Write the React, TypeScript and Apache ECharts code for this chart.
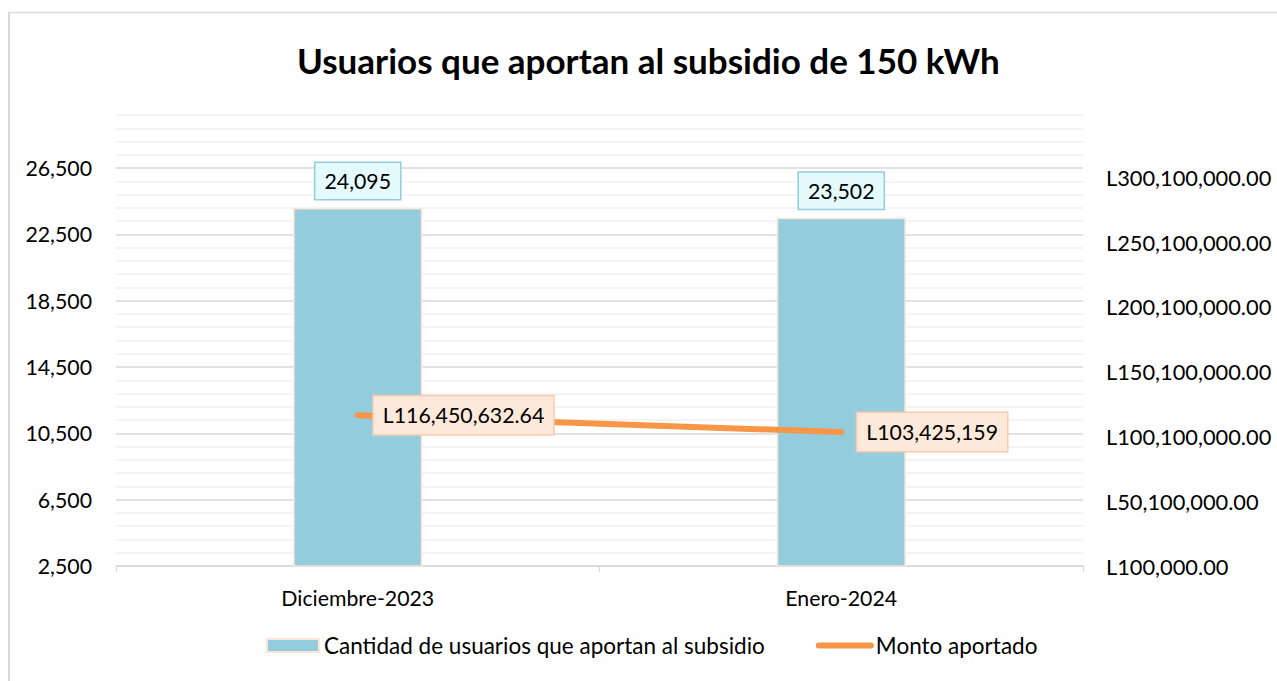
import React, { useEffect, useRef } from 'react';
import * as echarts from 'echarts';

const titleText = 'Usuarios que aportan al subsidio de 150 kWh';
const categories = ['Diciembre-2023', 'Enero-2024'];
const usuarios = [24095, 23502];
const monto = [116450632.64, 103425159];
const seriesNames = ['Cantidad de usuarios que aportan al subsidio', 'Monto aportado'];

const leftMin = 2500;
const leftMax = 29700;
const leftMinorStep = 800;
const leftMajorStep = 4000;
const rightMin = 100000;
const rightMax = 348100000;
const rightStep = 50000000;

const FONT = 'Lato, "Noto Sans", sans-serif';
const AX = 21.3;

export default function App() {
  const ref = useRef<HTMLDivElement>(null);
  useEffect(() => {
    if (!ref.current) return;
    const chart = echarts.init(ref.current, null, { renderer: 'svg' });
    const fmtInt = (v: number) => v.toLocaleString('en-US');
    chart.setOption({
      animation: false,
      backgroundColor: '#ffffff',
      textStyle: { fontFamily: FONT },
      title: {
        text: titleText,
        left: 292,
        top: 37,
        textStyle: { fontFamily: FONT, fontSize: 35, fontWeight: 'bold', color: '#000' },
      },
      graphic: [
        { type: 'line', shape: { x1: 9, y1: 12, x2: 9, y2: 681 }, style: { stroke: '#d9d9d9', lineWidth: 2 } },
        { type: 'line', shape: { x1: 8, y1: 12.5, x2: 1277, y2: 12.5 }, style: { stroke: '#d9d9d9', lineWidth: 1.5 } },
      ],
      legend: {
        bottom: 19,
        left: 261,
        itemGap: 51,
        itemWidth: 52,
        itemHeight: 13,
        itemTextGap: 6,
        textStyle: { fontFamily: FONT, fontSize: 22.5, color: '#000' },
        data: [
          { name: seriesNames[0], icon: 'rect' },
          { name: seriesNames[1], itemStyle: { opacity: 0 }, lineStyle: { width: 6, cap: 'round' } },
        ],
      },
      grid: { left: 116, right: 194, top: 115, bottom: 115, containLabel: false, outerBoundsMode: 'none' },
      xAxis: {
        type: 'category',
        data: categories,
        boundaryGap: true,
        axisLine: { show: true, lineStyle: { color: '#d9d9d9', width: 1.5 } },
        axisTick: { show: true, length: 6, lineStyle: { color: '#d9d9d9' } },
        axisLabel: { fontFamily: FONT, fontSize: AX, color: '#000', margin: 21 },
      },
      yAxis: [
        {
          type: 'value',
          min: leftMin,
          max: leftMax,
          interval: leftMinorStep,
          axisLine: { show: false },
          axisTick: { show: false },
          axisLabel: {
            fontFamily: FONT,
            fontSize: AX,
            color: '#000',
            margin: 24,
            showMaxLabel: false,
            formatter: (v: number) => ((v - leftMin) % leftMajorStep === 0 ? fmtInt(v) : ''),
          },
          splitLine: {
            show: true,
            lineStyle: {
              color: ['#d9d9d9', '#f0f0f0', '#f0f0f0', '#f0f0f0', '#f0f0f0'],
              width: 1.5,
            },
          },
        },
        {
          type: 'value',
          min: rightMin,
          max: rightMax,
          interval: rightStep,
          axisLine: { show: false },
          axisTick: { show: false },
          splitLine: { show: false },
          axisLabel: {
            fontFamily: FONT,
            fontSize: 21.8,
            color: '#000',
            margin: 23,
            showMaxLabel: false,
            formatter: (v: number) =>
              'L' + v.toLocaleString('en-US', { minimumFractionDigits: 2, maximumFractionDigits: 2 }),
          },
        },
      ],
      series: [
        {
          name: seriesNames[0],
          type: 'bar',
          yAxisIndex: 0,
          data: usuarios,
          barWidth: '26.7%',
          itemStyle: { color: '#93CDDD', borderColor: '#FCE4D6', borderWidth: 1.5 },
          label: {
            show: true,
            position: 'top',
            distance: 9,
            fontFamily: FONT,
            fontSize: AX,
            color: '#000',
            backgroundColor: '#E4FAFD',
            borderColor: '#92CDDC',
            borderWidth: 1.5,
            padding: [8, 9, 7, 9],
            formatter: (p: any) => fmtInt(p.value),
          },
        },
        {
          name: seriesNames[1],
          type: 'line',
          yAxisIndex: 1,
          data: monto,
          symbol: 'circle',
          symbolSize: 2,
          showSymbol: true,
          lineStyle: { color: '#F79646', width: 6, cap: 'round' },
          itemStyle: { color: '#F79646' },
          label: {
            show: true,
            position: 'right',
            distance: 15,
            fontFamily: FONT,
            fontSize: AX,
            color: '#000',
            backgroundColor: '#FDE9D9',
            borderColor: '#F8CBAD',
            borderWidth: 1.5,
            padding: [9, 9, 8, 9],
            formatter: (p: any) =>
              'L' + Number(p.value).toLocaleString('en-US', { maximumFractionDigits: 2 }),
          },
          z: 5,
        },
      ],
    });
    return () => chart.dispose();
  }, []);
  return (
    <div
      ref={ref}
      style={{ position: 'absolute', left: 0, top: 0, width: 1277, height: 681 }}
    />
  );
}
